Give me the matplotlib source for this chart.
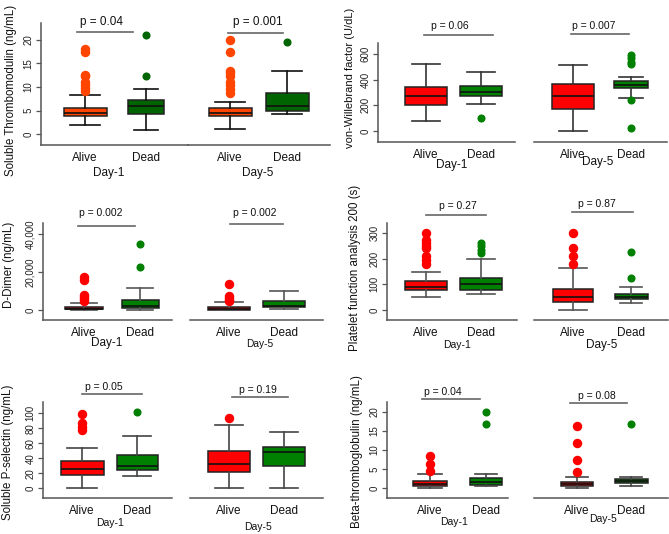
import matplotlib
matplotlib.use("Agg")
import matplotlib.pyplot as plt
from matplotlib.lines import Line2D

plt.rcParams['font.family'] = ['Liberation Sans', 'DejaVu Sans']

# ---------------- data (five-number summaries: low whisker, Q1, median, Q3, high whisker)
groups = ["Alive", "Dead"]
days = ["Day-1", "Day-5"]

tm_box = [[2.0, 3.8, 4.4, 5.5, 8.2], [0.9, 4.2, 6.0, 7.3, 9.5],
          [1.1, 3.8, 4.4, 5.5, 6.9], [4.2, 4.9, 5.9, 8.8, 13.4]]
tm_out = [[9.2, 9.8, 10.5, 11.0, 12.3, 12.6, 17.4, 18.0], [12.4, 21.0],
          [8.8, 9.5, 10.5, 11.0, 12.4, 13.0, 13.3, 17.4, 20.0], [19.6]]
tm_p = ["0.04", "0.001"]

vwf_box = [[80, 200, 272, 343, 525], [210, 275, 305, 350, 460],
           [0, 175, 273, 365, 515], [255, 337, 360, 391, 418]]
vwf_out = [[], [100], [], [22, 243, 520, 540, 570, 590]]
vwf_p = ["0.06", "0.007"]

dd_box = [[0, 300, 700, 1500, 3500], [100, 1100, 2200, 5300, 11800],
          [0, 200, 600, 1800, 4000], [500, 1500, 2000, 4500, 10100]]
dd_out = [[5000, 6000, 7000, 7800, 16000, 17200], [22500, 34500],
          [4500, 5500, 6500, 7500, 13600], []]
dd_p = ["0.002", "0.002"]

pfa_box = [[50, 78, 88, 112, 150], [62, 78, 100, 126, 198],
           [0, 33, 50, 82, 162], [27, 43, 52, 61, 88]]
pfa_out = [[180, 196, 211, 241, 248, 261, 274, 300], [222, 235, 250, 262],
           [180, 211, 241, 300], [123, 226]]
pfa_p = ["0.27", "0.87"]

ps_box = [[0, 18, 26, 37, 54], [16, 24, 30, 45, 70],
          [1, 22, 33, 50, 84], [0, 30, 48, 55, 75]]
ps_out = [[78, 82, 87, 99], [102], [94], []]
ps_p = ["0.05", "0.19"]

btg_box = [[0.2, 0.7, 1.1, 1.8, 3.8], [0.5, 0.9, 1.7, 2.7, 3.7],
           [0.2, 0.6, 1.1, 1.7, 3.0], [0.5, 1.3, 1.8, 2.3, 2.9]]
btg_out = [[4.5, 6.3, 8.5], [16.7, 20.0], [4.2, 7.4, 11.9, 16.3], [16.7]]
btg_p = ["0.04", "0.08"]

# ---------------- layout (pixels)
W, H = 669, 534
fig = plt.figure(figsize=(W / 100, H / 100), dpi=100)


def fx(x):
    return x / W


def fy(y):
    return 1 - y / H


panels = [
    dict(box=tm_box, out=tm_out, p=tm_p, ylabel="Soluble Thrombomodulin (ng/mL)",
         ticks=[0, 5, 10, 15, 20], tlabels=["0", "5", "10", "15", "20"],
         axL=(41, 188), axR=(188, 330), ytop=23, ybot=145, y0=134, ppu=4.7,
         cL=(85, 146), cR=(230, 287), widths=[43, 36, 43, 43],
         colors=("#FF4500", "#006400"), wcol="#111111", ylab=(11, 90), lfs=8.3,
         plines=[(77, 133, 32), (228, 283, 33)], ptext=[(101, 22), (258, 22)], pfs=8.5,
         glab_y=158, dlab=[(109, 173), (258, 173)], dfs=[8.5, 8.5]),
    dict(box=vwf_box, out=vwf_out, p=vwf_p, ylabel="von-Willebrand factor (U/dL)",
         ticks=[0, 200, 400, 600], tlabels=["0", "200", "400", "600"],
         axL=(378, 515), axR=(534, 667), ytop=43, ybot=142, y0=131, ppu=77 / 600,
         cL=(426, 481), cR=(573, 631), widths=[42, 42, 42, 34],
         colors=("#FF0000", "#008000"), wcol="#333333", ylab=(350, 78), lfs=8.0,
         plines=[(424, 493, 35), (571, 629, 34)], ptext=[(450, 26), (594, 26)], pfs=7.5,
         glab_y=152, dlab=[(452, 165), (598, 162)], dfs=[8.5, 8.5]),
    dict(box=dd_box, out=dd_out, p=dd_p, ylabel="D-Dimer (ng/mL)",
         ticks=[0, 20000, 40000], tlabels=["0", "20,000", "40,000"],
         axL=(43, 172), axR=(190, 323), ytop=223, ybot=320, y0=310, ppu=76 / 40000,
         cL=(84, 140), cR=(229, 284), widths=[38, 37, 42, 42],
         colors=("#FF0000", "#008000"), wcol="#555555", ylab=(9, 265), lfs=8.3,
         plines=[(78, 135, 226), (230, 283, 224)], ptext=[(101, 213), (255, 213)], pfs=7.5,
         glab_y=332, dlab=[(107, 343), (260, 344)], dfs=[8.5, 7.3]),
    dict(box=pfa_box, out=pfa_out, p=pfa_p, ylabel="Platelet function analysis 200 (s)",
         ticks=[0, 100, 200, 300], tlabels=["0", "100", "200", "300"],
         axL=(387, 517), axR=(534, 668), ytop=223, ybot=320, y0=310, ppu=77 / 300,
         cL=(426, 481), cR=(573, 631), widths=[42, 42, 40, 33],
         colors=("#FF0000", "#008000"), wcol="#555555", ylab=(355, 268), lfs=8.3,
         plines=[(426, 486, 215), (572, 633, 212)], ptext=[(458, 206), (597, 204)], pfs=7.5,
         glab_y=331, dlab=[(457, 345), (602, 345)], dfs=[7.5, 8.5]),
    dict(box=ps_box, out=ps_out, p=ps_p, ylabel="Soluble P-selectin (ng/mL)",
         ticks=[0, 20, 40, 60, 80, 100], tlabels=["0", "20", "40", "60", "80", "100"],
         axL=(43, 172), axR=(190, 323), ytop=402, ybot=498, y0=488.3, ppu=75 / 100,
         cL=(82, 137), cR=(229, 284), widths=[43, 41, 42, 42],
         colors=("#FF0000", "#008000"), wcol="#444444", ylab=(8, 452), lfs=8.3,
         plines=[(82, 142, 394), (232, 288, 397)], ptext=[(104, 387), (258, 390)], pfs=7.5,
         glab_y=509, dlab=[(110, 523), (258, 527)], dfs=[7.5, 7.5]),
    dict(box=btg_box, out=btg_out, p=btg_p, ylabel="Beta-thromboglobulin (ng/mL)",
         ticks=[0, 5, 10, 15, 20], tlabels=["0", "5", "10", "15", "20"],
         axL=(387, 508), axR=(534, 668), ytop=402, ybot=498, y0=488.3, ppu=76.7 / 20,
         cL=(430, 486), cR=(577, 631), widths=[34, 32, 32, 33],
         colors=("#FF0000", "#008000"), wcol="#444444", ylab=(357, 452), lfs=8.3,
         plines=[(422, 480, 399), (570, 627, 403)], ptext=[(443, 392), (597, 396)], pfs=7.5,
         glab_y=509, dlab=[(454, 522), (603, 519)], dfs=[7.5, 7.5]),
]

spine_col = "#555555"

for P in panels:
    lo = (P["y0"] - P["ybot"]) / P["ppu"]
    hi = (P["y0"] - P["ytop"]) / P["ppu"]
    for k, (xa, xb), (c1, c2) in ((0, P["axL"], P["cL"]), (1, P["axR"], P["cR"])):
        ax = fig.add_axes([fx(xa), fy(P["ybot"]), (xb - xa) / W, (P["ybot"] - P["ytop"]) / H])
        s = c2 - c1
        ax.set_xlim(1 - (c1 - xa) / s, 1 + (xb - c1) / s)
        ax.set_ylim(lo, hi)
        stats = []
        for g in range(2):
            b = P["box"][2 * k + g]
            stats.append(dict(whislo=b[0], q1=b[1], med=b[2], q3=b[3], whishi=b[4],
                              fliers=P["out"][2 * k + g]))
        wd = [P["widths"][2 * k + g] / s for g in range(2)]
        for g in range(2):
            ms = 5.8 if g == 0 else 4.8
            ax.bxp([stats[g]], positions=[g + 1], widths=[wd[g]], capwidths=[wd[g] * 0.68],
                   patch_artist=True, manage_ticks=False,
                   boxprops=dict(facecolor=P["colors"][g], edgecolor="#222222", linewidth=1.1),
                   medianprops=dict(color="#111111", linewidth=1.2),
                   whiskerprops=dict(color=P["wcol"], linewidth=1.2, linestyle="-"),
                   capprops=dict(color=P["wcol"], linewidth=1.2),
                   flierprops=dict(marker="o", markerfacecolor=P["colors"][g],
                                   markeredgecolor=P["colors"][g], markersize=ms,
                                   linestyle="none"))
        ax.set_xticks([1, 2])
        ax.set_xticklabels(groups, fontsize=8.5, color="#111111")
        ax.tick_params(axis="x", length=0, pad=5)
        for sp in ("top", "right"):
            ax.spines[sp].set_visible(False)
        ax.spines["bottom"].set_color(spine_col)
        ax.spines["bottom"].set_linewidth(1.1)
        ax.patch.set_alpha(0)
        if k == 0:
            ax.spines["left"].set_color(spine_col)
            ax.spines["left"].set_linewidth(1.1)
            ax.set_yticks(P["ticks"])
            ax.set_yticklabels(P["tlabels"], fontsize=7, color="#222222")
            ax.tick_params(axis="y", labelrotation=90, length=3.5, width=0.9,
                           color=spine_col, pad=2)
            for t in ax.get_yticklabels():
                t.set_va("center")
        else:
            ax.spines["left"].set_visible(False)
            ax.set_yticks([])
    # y label
    fig.text(fx(P["ylab"][0]), fy(P["ylab"][1]), P["ylabel"], rotation=90,
             ha="center", va="center", fontsize=P["lfs"], color="#111111")
    # day labels
    for (dx, dy), day, fs in zip(P["dlab"], days, P["dfs"]):
        fig.text(fx(dx), fy(dy), day, ha="center", va="center", fontsize=fs, color="#111111")
    # p-value annotations
    for (x0, x1, yy), (tx, ty), pv in zip(P["plines"], P["ptext"], P["p"]):
        fig.add_artist(Line2D([fx(x0), fx(x1)], [fy(yy), fy(yy)], color="#666666",
                              linewidth=1.2, transform=fig.transFigure))
        fig.text(fx(tx), fy(ty), "p = " + pv, ha="center", va="center",
                 fontsize=P["pfs"], color="#111111")

fig.savefig("out.png", dpi=100, facecolor="white")
